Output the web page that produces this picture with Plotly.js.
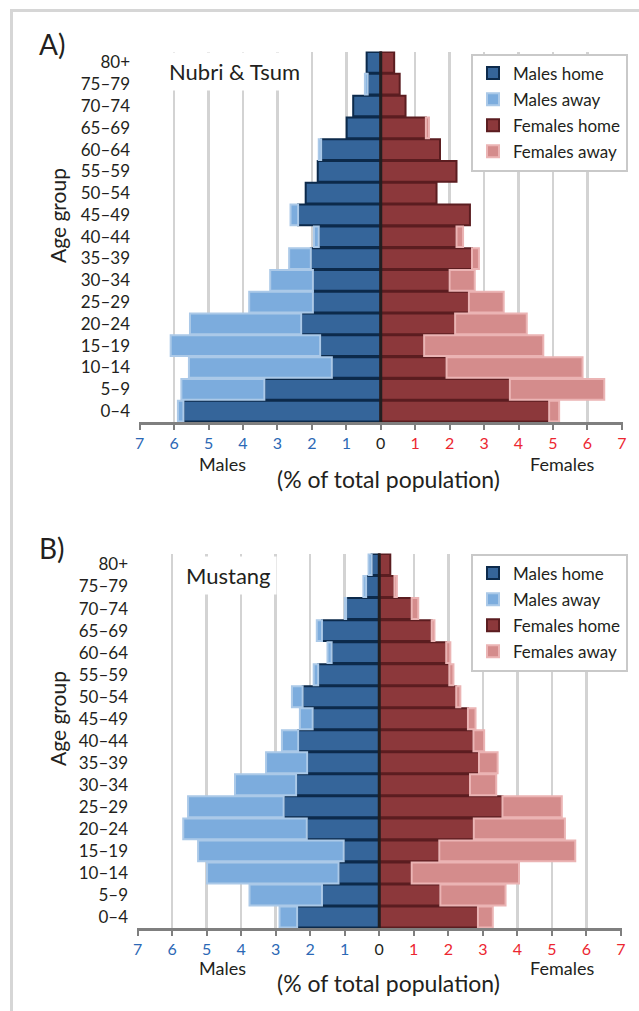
<!DOCTYPE html>
<html>
<head>
<meta charset="utf-8">
<script src="https://cdn.plot.ly/plotly-3.0.1.min.js"></script>
<style>
html,body{margin:0;padding:0;background:#fff;}
#chart{width:639px;height:1011px;}
</style>
</head>
<body>
<div id="chart"></div>
<script>
// Age groups, bottom to top
const ageGroups = ["0–4","5–9","10–14","15–19","20–24","25–29","30–34","35–39","40–44","45–49","50–54","55–59","60–64","65–69","70–74","75–79","80+"];

// Panel A: Nubri & Tsum (% of total population)
const nubriMalesHome    = [5.73,3.38,1.42,1.76,2.31,1.97,1.97,2.03,1.80,2.40,2.18,1.83,1.73,0.99,0.80,0.38,0.41];
const nubriMalesAway    = [0.16,2.41,4.15,4.34,3.23,1.85,1.24,0.63,0.14,0.22,0,0,0.07,0,0,0.08,0];
const nubriFemalesHome  = [4.89,3.75,1.91,1.26,2.16,2.56,2.00,2.65,2.20,2.59,1.62,2.20,1.72,1.31,0.72,0.55,0.39];
const nubriFemalesAway  = [0.29,2.74,3.95,3.46,2.08,1.01,0.73,0.20,0.19,0,0,0,0,0.09,0,0,0];

// Panel B: Mustang (% of total population)
const mustangMalesHome   = [2.38,1.66,1.18,1.03,2.10,2.77,2.41,2.09,2.35,1.93,2.22,1.77,1.38,1.66,0.96,0.38,0.22];
const mustangMalesAway   = [0.51,2.10,3.81,4.22,3.58,2.77,1.77,1.19,0.47,0.37,0.31,0.13,0.12,0.15,0.04,0.08,0.09];
const mustangFemalesHome = [2.86,1.77,0.94,1.74,2.74,3.57,2.63,2.89,2.73,2.57,2.23,2.03,1.94,1.52,0.94,0.44,0.32];
const mustangFemalesAway = [0.43,1.89,3.11,3.94,2.64,1.72,0.76,0.54,0.31,0.22,0.12,0.12,0.12,0.08,0.19,0.07,0];

const xTickVals = [-7,-6,-5,-4,-3,-2,-1,0,1,2,3,4,5,6,7];
const xTickNums = ["7","6","5","4","3","2","1","0","1","2","3","4","5","6","7"];

const seriesNames = ["Males home","Males away","Females home","Females away"];

const FONT = "Lato, 'Open Sans', sans-serif";
const TXT = "#231f20";
const BLUE_T = "#2b68b5";
const RED_T = "#ec2630";

const styles = [
  {fill:"#35659a", line:"#0c2a4b"},
  {fill:"#7cacdd", line:"#abc9e8"},
  {fill:"#8c383b", line:"#5b1d20"},
  {fill:"#d48c8c", line:"#ebb4b4"}
];

function nz(v){ return v === 0 ? null : v; }

function makeTraces(arrs, xa, ya, legend, showlegend){
  return arrs.map((arr, i) => ({
    type: "bar",
    orientation: "h",
    name: seriesNames[i],
    y: ageGroups,
    x: arr.map(v => nz(i < 2 ? -v : v)),
    xaxis: xa, yaxis: ya,
    legend: legend,
    legendgroup: legend + "_" + i,
    showlegend: showlegend,
    marker: {color: styles[i].fill, line: {color: styles[i].line, width: 2}},
    hoverinfo: "skip"
  }));
}

const traces = [
  ...makeTraces([nubriMalesHome, nubriMalesAway, nubriFemalesHome, nubriFemalesAway], "x", "y", "legend", true),
  ...makeTraces([mustangMalesHome, mustangMalesAway, mustangFemalesHome, mustangFemalesAway], "x2", "y2", "legend2", true)
];

const W = 639, H = 1011;
const px = v => v / W;
const py = v => 1 - v / H;

const tickText = xTickNums.map((t, i) => {
  const v = xTickVals[i];
  const c = v < 0 ? BLUE_T : (v > 0 ? RED_T : TXT);
  return '<span style="color:' + c + '">' + t + '</span>';
});

function xaxisDef(domain){
  return {
    domain: domain,
    range: [-7.02, 7.02],
    tickvals: xTickVals,
    ticktext: tickText,
    tickfont: {family: FONT, size: 16, color: TXT},
    showgrid: true, gridcolor: "#d3d3d3", gridwidth: 2.5,
    zeroline: false,
    showline: true, linecolor: "#7f7f7f", linewidth: 2.5,
    ticks: "outside", ticklen: 5, tickwidth: 2, tickcolor: "#7f7f7f",
    fixedrange: true
  };
}
function yaxisDef(domain, anchor){
  return {
    domain: domain,
    anchor: anchor,
    type: "category",
    categoryorder: "array",
    categoryarray: ageGroups,
    range: [-0.5, 16.5],
    showgrid: false, zeroline: false, showline: false,
    ticks: "", ticklabelstandoff: 8,
    tickfont: {family: FONT, size: 17, color: TXT},
    fixedrange: true
  };
}

const topY = [py(422), py(51.5)];
const botY = [py(928), py(553.5)];

const ann = (text, x, y, size, extra) => Object.assign({
  text: text, xref: "paper", yref: "paper", x: px(x), y: py(y),
  xanchor: "center", yanchor: "middle", showarrow: false,
  font: {family: FONT, size: size, color: TXT}
}, extra || {});

const annotations = [
  ann("A)", 37, 44, 28, {xanchor: "left"}),
  ann("B)", 37, 548, 28, {xanchor: "left"}),
  ann("Age group", 57, 216, 21, {textangle: -90}),
  ann("Age group", 57, 719, 21, {textangle: -90}),
  ann("Nubri &amp; Tsum", 234, 71, 22, {bgcolor: "#fff", borderpad: 5}),
  ann("Mustang", 228, 575, 22, {bgcolor: "#fff", borderpad: 5}),
  ann("Males", 222, 464, 18, {borderpad: 0}),
  ann("Females", 562, 464, 18, {borderpad: 0}),
  ann("(% of total population)", 388, 479, 23, {borderpad: 0}),
  ann("Males", 222, 968, 18, {borderpad: 0}),
  ann("Females", 562, 968, 18, {borderpad: 0}),
  ann("(% of total population)", 388, 983, 23, {borderpad: 0})
];

const shapes = [
  {type: "rect", xref: "paper", yref: "paper", x0: px(11.5), x1: 1.1, y0: py(10.5), y1: -0.1,
   line: {color: "#d6d6d6", width: 3}, fillcolor: "rgba(0,0,0,0)", layer: "below"},
  {type: "line", xref: "x", yref: "y domain", x0: 0, x1: 0, y0: 0, y1: 1,
   line: {color: TXT, width: 3}, layer: "above"},
  {type: "line", xref: "x2", yref: "y2 domain", x0: 0, x1: 0, y0: 0, y1: 1,
   line: {color: TXT, width: 3}, layer: "above"}
];

const legendDef = (top) => ({
  x: px(471), y: py(top), xanchor: "left", yanchor: "top",
  bgcolor: "#fff", bordercolor: "#c9c9c9", borderwidth: 2,
  font: {family: FONT, size: 17, color: TXT},
  traceorder: "grouped", tracegroupgap: 1,
  itemclick: false, itemdoubleclick: false
});

const layout = {
  width: W, height: H,
  margin: {l: 0, r: 0, t: 0, b: 0},
  paper_bgcolor: "#fff", plot_bgcolor: "#fff",
  barmode: "relative", bargap: 0.05,
  showlegend: true,
  font: {family: FONT, color: TXT},
  xaxis: xaxisDef([px(139), px(622.5)]),
  yaxis: yaxisDef(topY, "x"),
  xaxis2: Object.assign(xaxisDef([px(137), px(621.5)]), {anchor: "y2"}),
  yaxis2: yaxisDef(botY, "x2"),
  legend: legendDef(53.5),
  legend2: legendDef(553.5),
  annotations: annotations,
  shapes: shapes
};
layout.xaxis.anchor = "y";

Plotly.newPlot("chart", traces, layout, {displayModeBar: false, staticPlot: true});
</script>
</body>
</html>
